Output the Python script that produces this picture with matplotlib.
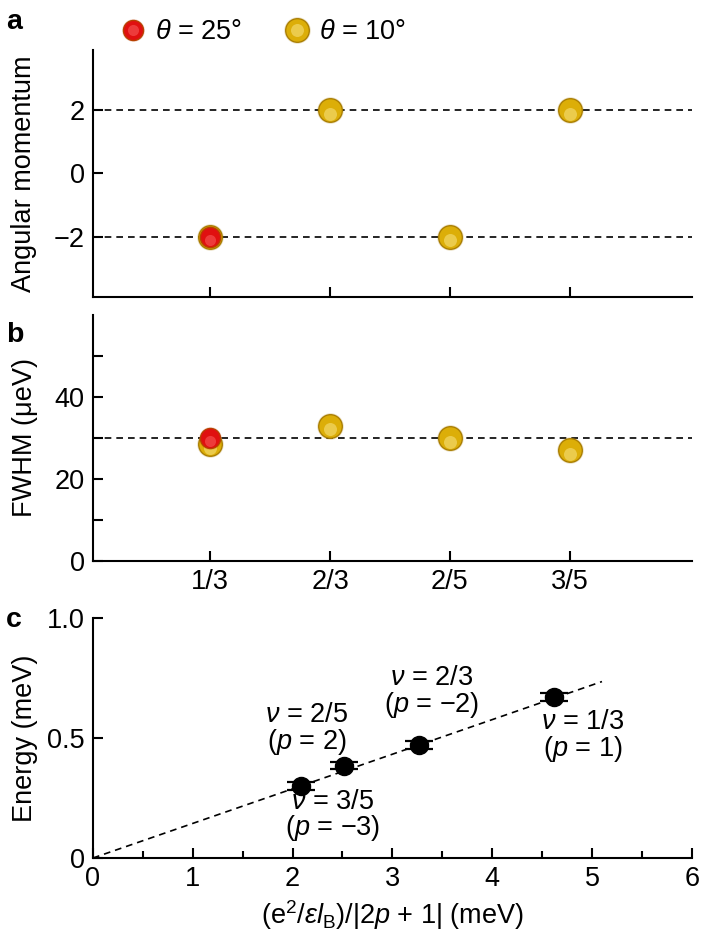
import numpy as np
import matplotlib
matplotlib.use("Agg")
import matplotlib.pyplot as plt
import matplotlib.transforms as mtrans
from matplotlib.legend_handler import HandlerTuple

plt.rcParams['font.family'] = ['Liberation Sans', 'DejaVu Sans']
plt.rcParams['mathtext.fontset'] = 'custom'
plt.rcParams['mathtext.rm'] = 'Liberation Sans'
plt.rcParams['mathtext.it'] = 'Liberation Sans:italic'
plt.rcParams['mathtext.bf'] = 'Liberation Sans:bold'

# data
fractions = ["1/3", "2/3", "2/5", "3/5"]
pos = [1, 2, 3, 4]
ang_10 = [-2, 2, -2, 2]        # theta = 10 deg
ang_25 = [-2]                  # theta = 25 deg (only 1/3)
fwhm_10 = [28.5, 33, 30, 27]
fwhm_25 = [30]
energy_x = [2.08, 2.52, 3.27, 4.62]
energy_y = [0.30, 0.385, 0.47, 0.67]
energy_err = [0.016, 0.016, 0.016, 0.016]
fit_x = [0, 5.1]
fit_y = [0, 0.735]
labels_c = [r"$\nu$ = 3/5" + "\n" + r"($p$ = −3)",
            r"$\nu$ = 2/5" + "\n" + r"($p$ = 2)",
            r"$\nu$ = 2/3" + "\n" + r"($p$ = −2)",
            r"$\nu$ = 1/3" + "\n" + r"($p$ = 1)"]
label_xy = [(2.40, 0.175), (2.14, 0.535), (3.39, 0.69), (4.91, 0.505)]

FS = 19.5
GOLD = "#dcae08"
RED = "#e01010"


def sphere(ax, x, y, color, edge, hl, ms, zo=3):
    # crude shiny ball: soft rim, body, light spot a bit below centre
    down = mtrans.offset_copy(ax.transData, fig=ax.figure, x=0, y=-ms * 0.15, units="points")
    glow, = ax.plot(x, y, 'o', ms=ms * 1.12, color=edge, alpha=0.25, mew=0, zorder=zo, clip_on=False)
    base, = ax.plot(x, y, 'o', ms=ms, color=color, mec=edge, mew=0.9, zorder=zo + 0.1, clip_on=False)
    shine, = ax.plot(x, y, 'o', ms=ms * 0.55, color=hl, alpha=0.45, mew=0, zorder=zo + 0.2,
                     clip_on=False, transform=down)
    return (glow, base, shine)


def gold(ax, x, y):
    return sphere(ax, x, y, GOLD, "#a87c00", "#fff0a0", 17)


def red(ax, x, y):
    return sphere(ax, x, y, RED, "#b84000", "#ff7070", 14.5, zo=5)


def style(ax):
    for s in ["top", "right"]:
        ax.spines[s].set_visible(False)
    for s in ["left", "bottom"]:
        ax.spines[s].set_linewidth(1.5)
    ax.tick_params(direction="in", width=1.5, length=7, labelsize=FS, pad=6)
    ax.tick_params(which="minor", direction="in", width=1.5, length=5)


fig = plt.figure(figsize=(7.07, 9.41), dpi=100)
ax_a = fig.add_axes([0.1315, 0.6844, 0.847, 0.2625])
ax_b = fig.add_axes([0.1315, 0.4038, 0.847, 0.2615])
ax_c = fig.add_axes([0.1315, 0.0882, 0.847, 0.2551])

# panel a
style(ax_a)
ax_a.set_xlim(0.02, 5.02)
ax_a.set_ylim(-3.9, 3.9)
ax_a.axhline(2, color="black", ls=(0, (4, 3)), lw=1.2, zorder=2)
ax_a.axhline(-2, color="black", ls=(0, (4, 3)), lw=1.2, zorder=2)
h10 = gold(ax_a, pos, ang_10)
h25 = red(ax_a, pos[:1], ang_25)
ax_a.set_xticks(pos)
ax_a.set_xticklabels([])
ax_a.set_yticks([-2, 0, 2])
ax_a.set_yticklabels(["−2", "0", "2"])
ax_a.set_ylabel("Angular momentum", fontsize=FS, labelpad=12)
ax_a.legend([h25, h10], [r"$\theta$ = 25°", r"$\theta$ = 10°"],
            handler_map={tuple: HandlerTuple(ndivide=1, pad=0)}, ncol=2, frameon=False,
            fontsize=FS, loc="lower left", bbox_to_anchor=(0.035, 0.975),
            handlelength=0.6, handletextpad=0.5, columnspacing=1.75, borderaxespad=0)

# panel b
style(ax_b)
ax_b.set_xlim(0.02, 5.02)
ax_b.set_ylim(0, 60)
ax_b.axhline(30, color="black", ls=(0, (4, 3)), lw=1.2, zorder=2)
gold(ax_b, pos, fwhm_10)
red(ax_b, pos[:1], fwhm_25)
ax_b.set_xticks(pos)
ax_b.set_xticklabels(fractions)
ax_b.set_yticks([0, 20, 40])
ax_b.set_yticks([10, 30, 50], minor=True)
ax_b.tick_params(which="minor", length=7)
ax_b.set_ylabel("FWHM (μeV)", fontsize=FS, labelpad=12)

# panel c
style(ax_c)
ax_c.set_xlim(0, 6)
ax_c.set_ylim(0, 1.0)
ax_c.plot(fit_x, fit_y, color="black", ls=(0, (4, 3)), lw=1.2, zorder=2)
ax_c.errorbar(energy_x, energy_y, yerr=energy_err, fmt="o", ms=13, color="black",
              capsize=10, capthick=1.6, elinewidth=1.5, zorder=4)
ax_c.set_xticks(range(7))
ax_c.set_xticks(np.arange(0.5, 6, 1), minor=True)
ax_c.set_yticks([0, 0.5, 1.0])
ax_c.set_yticklabels(["0", "0.5", "1.0"])
for txt, (tx, ty) in zip(labels_c, label_xy):
    ax_c.text(tx, ty, txt, fontsize=FS, ha="center", va="center", linespacing=0.95)
ax_c.set_xlabel(r"(e$^2$/$\varepsilon l_\mathrm{B}$)/|2$p$ + 1| (meV)", fontsize=FS, labelpad=4)
ax_c.set_ylabel("Energy (meV)", fontsize=FS, labelpad=6)

# panel letters
fig.text(0.008, 0.977, "a", fontsize=FS + 1, fontweight="bold", va="center")
fig.text(0.008, 0.644, "b", fontsize=FS + 1, fontweight="bold", va="center")
fig.text(0.008, 0.341, "c", fontsize=FS + 1, fontweight="bold", va="center")

fig.savefig("out.png", dpi=100)
